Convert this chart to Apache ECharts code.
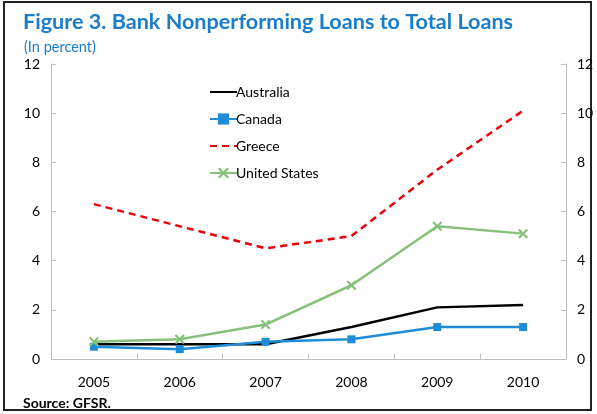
<!DOCTYPE html>
<html><head><meta charset="utf-8">
<script src="https://cdn.jsdelivr.net/npm/echarts@6/dist/echarts.min.js"></script>
<style>html,body{margin:0;padding:0;background:#fff}#c{width:597px;height:414px}</style>
</head><body><div id="c"></div>
<script>
const years = ['2005','2006','2007','2008','2009','2010'];
const australia = [0.6, 0.6, 0.6, 1.3, 2.1, 2.2];
const canada = [0.5, 0.4, 0.7, 0.8, 1.3, 1.3];
const greece = [6.3, 5.4, 4.5, 5.0, 7.7, 10.1];
const unitedStates = [0.7, 0.8, 1.4, 3.0, 5.4, 5.1];

const FONT = 'Lato';
const chart = echarts.init(document.getElementById('c'));
const xSym = 'path://M0,1.5L1.5,0L5,3.5L8.5,0L10,1.5L6.5,5L10,8.5L8.5,10L5,6.5L1.5,10L0,8.5L3.5,5Z';
const yAxisBase = {
  type: 'value', min: 0, max: 12, interval: 2,
  axisLine: {show: true, lineStyle: {color: '#bfbfbf', width: 1}},
  axisTick: {show: true, inside: true, length: 5, lineStyle: {color: '#bfbfbf'}},
  splitLine: {show: false},
  axisLabel: {color: '#000', fontSize: 14, fontFamily: FONT, margin: 11}
};
chart.setOption({
  animation: false,
  textStyle: {fontFamily: FONT},
  title: [
    {text: 'Figure 3. Bank Nonperforming Loans to Total Loans', left: 18, top: 6,
     textStyle: {color: '#1a7dcc', fontSize: 21.6, fontWeight: 'bold', fontFamily: FONT}},
    {text: '(In percent)', left: 19, top: 35,
     textStyle: {color: '#1a7dcc', fontSize: 14.5, fontWeight: 'normal', fontFamily: FONT}},
    {text: 'Source: GFSR.', left: 18, top: 391,
     textStyle: {color: '#000', fontSize: 14, fontWeight: 'bold', fontFamily: FONT}}
  ],
  graphic: [{type: 'rect', shape: {x: 4, y: 2, width: 587, height: 408},
    style: {fill: 'none', stroke: '#222', lineWidth: 2}, silent: true}],
  legend: {
    orient: 'vertical', left: 204, top: 80, itemGap: 13, itemWidth: 27, itemHeight: 14,
    textStyle: {fontSize: 14, color: '#000', fontFamily: FONT, padding: [0,0,0,-6]},
    data: [
      {name: 'Australia', itemStyle: {opacity: 0}},
      {name: 'Canada'},
      {name: 'Greece', itemStyle: {opacity: 0}},
      {name: 'United States'}
    ]
  },
  grid: {left: 51, right: 31, top: 64, bottom: 55},
  xAxis: {
    type: 'category', data: years, boundaryGap: true,
    axisLine: {lineStyle: {color: '#bfbfbf', width: 1}},
    axisTick: {show: true, inside: true, length: 5, lineStyle: {color: '#bfbfbf'}},
    axisLabel: {color: '#000', fontSize: 14, fontFamily: FONT, margin: 16}
  },
  yAxis: [Object.assign({}, yAxisBase, {position: 'left'}),
          Object.assign({}, yAxisBase, {position: 'right'})],
  series: [
    {name: 'Australia', type: 'line', data: australia, symbol: 'none',
     lineStyle: {color: '#000', width: 2.5}, itemStyle: {color: '#000'}},
    {name: 'Canada', type: 'line', data: canada, symbol: 'rect', symbolSize: 8,
     lineStyle: {color: '#1f8dd6', width: 2.5}, itemStyle: {color: '#1f8dd6'}},
    {name: 'Greece', type: 'line', data: greece, symbol: 'none',
     lineStyle: {color: '#e8000b', width: 2.5, type: [7, 5]}, itemStyle: {color: '#e8000b'}},
    {name: 'United States', type: 'line', data: unitedStates, symbol: xSym, symbolSize: 10,
     lineStyle: {color: '#86c07a', width: 2.5}, itemStyle: {color: '#86c07a'}}
  ]
});
</script></body></html>
